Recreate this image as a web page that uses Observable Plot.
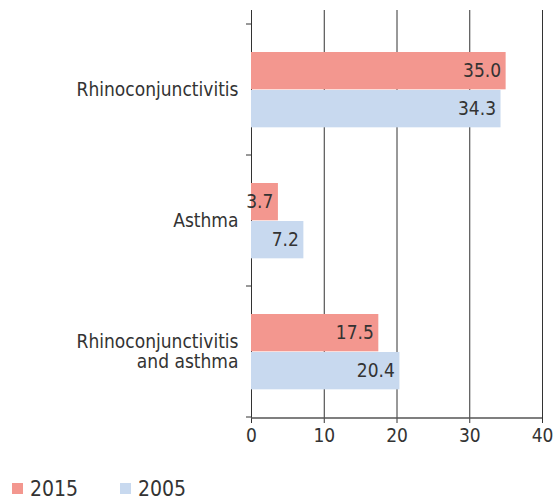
<!DOCTYPE html>
<html>
<head>
<meta charset="utf-8">
<script src="https://cdn.jsdelivr.net/npm/d3@7"></script>
<script src="https://cdn.jsdelivr.net/npm/@observablehq/plot@0.6"></script>
<style>
  body { margin: 0; background: #fff; }
  #wrap { position: relative; width: 557px; height: 499px; font-family: "DejaVu Sans Condensed", "Open Sans", sans-serif; color: #333; }
  #legend { position: absolute; left: 0; top: 474px; height: 29px; width: 557px; }
  .item { position: absolute; top: 0; display: flex; align-items: center; font-size: 21px; height: 29px; }
  .sw { width: 11px; height: 11px; margin-right: 7px; }
</style>
</head>
<body>
<div id="wrap"></div>
<script>
const categories = ["Rhinoconjunctivitis", "Asthma", "Rhinoconjunctivitis and asthma"];
const years = ["2015", "2005"];
const values2015 = [35.0, 3.7, 17.5];
const values2005 = [34.3, 7.2, 20.4];
const xTicks = [0, 10, 20, 30, 40];
const colors = {"2015": "#f3978f", "2005": "#c8d9ef"};

const rows = [];
categories.forEach((c, i) => {
  rows.push({category: c, year: "2015", value: values2015[i]});
  rows.push({category: c, year: "2005", value: values2005[i]});
});
const r2015 = rows.filter(d => d.year === "2015");
const r2005 = rows.filter(d => d.year === "2005");

const font = '"DejaVu Sans Condensed", "Open Sans", sans-serif';

const chart = Plot.plot({
  width: 557,
  height: 455,
  marginLeft: 251,
  marginRight: 15,
  marginTop: 23,
  marginBottom: 37,
  style: {fontFamily: font, fontSize: "19px", color: "#333", background: "#fff"},
  x: {domain: [0, 40], ticks: xTicks, label: null},
  y: {domain: categories, padding: 0, label: null},
  marks: [
    Plot.ruleX(xTicks, {stroke: "#333", strokeWidth: 1, insetTop: -13}),
    Plot.barX(r2015, {x: "value", y: "category", fill: colors["2015"], insetTop: 28, insetBottom: 65.67}),
    Plot.barX(r2005, {x: "value", y: "category", fill: colors["2005"], insetTop: 66, insetBottom: 27.67}),
    Plot.text(r2015, {x: "value", y: "category", text: d => d.value.toFixed(1), textAnchor: "end", dx: -5, dy: -19, fill: "#333", fontSize: 19}),
    Plot.text(r2005, {x: "value", y: "category", text: d => d.value.toFixed(1), textAnchor: "end", dx: -5, dy: 19, fill: "#333", fontSize: 19}),
    Plot.axisX({ticks: xTicks, tickSize: 5, tickPadding: 5, stroke: "#333", fill: "#333", fontSize: 19}),
    Plot.axisY({tickSize: 0, tickPadding: 13, fontSize: 19, fill: "#333", lineHeight: 1.05, tickFormat: d => d.replace(" and ", "\nand ")}),
    (index, scales, values, dimensions) => {
      const y = scales.y;
      const bw = y.bandwidth();
      const ys = categories.map(c => y(c)).concat([y(categories[categories.length - 1]) + bw]);
      const g = d3.create("svg:g");
      const {marginLeft, marginRight, marginBottom, width, height} = dimensions;
      g.selectAll("line.tk").data(ys).join("line")
        .attr("class", "tk")
        .attr("x1", marginLeft - 5)
        .attr("x2", marginLeft)
        .attr("y1", d => d).attr("y2", d => d)
        .attr("stroke", "#333");
      g.append("line")
        .attr("x1", marginLeft).attr("x2", width - marginRight)
        .attr("y1", height - marginBottom).attr("y2", height - marginBottom)
        .attr("stroke", "#555").attr("stroke-width", 1.5);
      return g.node();
    }
  ]
});

const wrap = document.getElementById("wrap");
wrap.appendChild(chart);
const legend = document.createElement("div");
legend.id = "legend";
const lefts = [12, 120];
years.forEach((yr, i) => {
  const it = document.createElement("div");
  it.className = "item";
  it.style.left = lefts[i] + "px";
  const sw = document.createElement("span");
  sw.className = "sw";
  sw.style.background = colors[yr];
  const tx = document.createElement("span");
  tx.textContent = yr;
  it.appendChild(sw);
  it.appendChild(tx);
  legend.appendChild(it);
});
wrap.appendChild(legend);
</script>
</body>
</html>
